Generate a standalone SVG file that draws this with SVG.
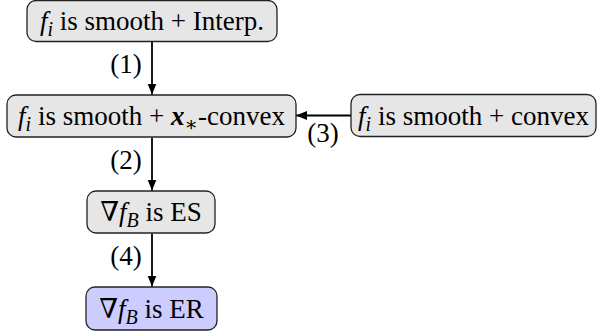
<svg xmlns="http://www.w3.org/2000/svg" width="602" height="336" viewBox="0 0 602 336">
<defs>
<marker id="ah" markerUnits="userSpaceOnUse" markerWidth="11" markerHeight="10" refX="11" refY="5" orient="auto">
<path d="M0,0.5 L11,5 L0,9.5 z" fill="#000"/>
</marker>
</defs>
<style>
.node rect{fill:#e6e6e6;stroke:#222;stroke-width:1.3}
.hl rect{fill:#ccccff}
.ctr{text-anchor:middle}
.it{font-style:italic}
.sub{font-size:20px}
.bi{font-style:italic;font-weight:bold}
.edge{stroke:#000;stroke-width:1.8;fill:none}
</style>
<rect width="602" height="336" fill="#fff"/>
<g font-family="'Liberation Serif', 'Times New Roman', 'DejaVu Serif', serif" font-size="27" fill="#000">
<g id="connectors">
<line class="edge" x1="152" y1="41.5" x2="152" y2="94.5" marker-end="url(#ah)"/>
<line class="edge" x1="152" y1="137.5" x2="152" y2="190.5" marker-end="url(#ah)"/>
<line class="edge" x1="152" y1="233.5" x2="152" y2="286.5" marker-end="url(#ah)"/>
<line class="edge" x1="351" y1="115.5" x2="296" y2="115.5" marker-end="url(#ah)"/>
<text class="ctr" x="126" y="73">(1)</text>
<text class="ctr" x="126" y="169">(2)</text>
<text class="ctr" x="323" y="142">(3)</text>
<text class="ctr" x="126" y="265">(4)</text>
</g>
<g id="n1" class="node">
<rect x="27" y="0.5" width="250" height="41" rx="9"/>
<text class="ctr" x="152" y="30"><tspan class="it">f</tspan><tspan class="it sub" dy="6">i</tspan><tspan dy="-6"> is smooth + Interp.</tspan></text>
</g>
<g id="n2" class="node">
<rect x="7" y="95" width="289" height="42" rx="9"/>
<text class="ctr" x="151.5" y="125"><tspan class="it">f</tspan><tspan class="it sub" dy="6">i</tspan><tspan dy="-6"> is smooth + </tspan><tspan class="bi">x</tspan><tspan class="sub" dy="6">∗</tspan><tspan dy="-6">-convex</tspan></text>
</g>
<g id="n3" class="node">
<rect x="351" y="94.5" width="245" height="42" rx="9"/>
<text class="ctr" x="473.5" y="124.5"><tspan class="it">f</tspan><tspan class="it sub" dy="6">i</tspan><tspan dy="-6"> is smooth + convex</tspan></text>
</g>
<g id="n4" class="node">
<rect x="87" y="191" width="128" height="42" rx="9"/>
<text class="ctr" x="151" y="221">∇<tspan class="it">f</tspan><tspan class="it sub" dy="6">B</tspan><tspan dy="-6"> is ES</tspan></text>
</g>
<g id="n5" class="node hl">
<rect x="86" y="287" width="131" height="43" rx="9"/>
<text class="ctr" x="151.5" y="317.5">∇<tspan class="it">f</tspan><tspan class="it sub" dy="6">B</tspan><tspan dy="-6"> is ER</tspan></text>
</g>
</g>
</svg>
